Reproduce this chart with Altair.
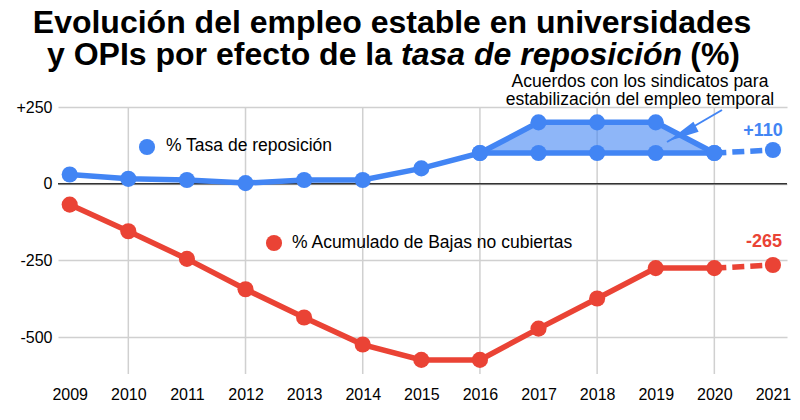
import altair as alt
import pandas as pd

# ---- data ----
years = [2009, 2010, 2011, 2012, 2013, 2014, 2015, 2016, 2017, 2018, 2019, 2020, 2021]
tasa = [30, 16, 12, 2, 12, 12, 50, 100, 100, 100, 100, 100, 110]
bajas = [-68, -155, -245, -344, -436, -524, -574, -574, -472, -374, -275, -275, -265]
acuerdos_years = [2016, 2017, 2018, 2019, 2020]
acuerdos_upper = [100, 200, 200, 200, 100]
acuerdos_lower = [100, 100, 100, 100, 100]
grid_years = [2010, 2012, 2014, 2016, 2018, 2020]
y_ticks = [-500, -250, 0, 250]

BLUE = "#4285F4"
RED = "#EA4335"
FONT = "Liberation Sans"
W, H = 729, 267

df = pd.DataFrame({"year": years, "tasa": tasa, "bajas": bajas})
solid = df[df.year <= 2020]
dashed = df[df.year >= 2020]
last = df[df.year == 2021]
acu = pd.DataFrame({"year": acuerdos_years, "upper": acuerdos_upper, "lower": acuerdos_lower})

xscale = alt.Scale(domain=[2008.8, 2021.24], nice=False, zero=False)
yscale = alt.Scale(domain=[-620, 250], nice=False, zero=False)
xax = alt.Axis(values=years, format="d", grid=False, ticks=False, domain=False,
               labelFontSize=16, labelFont=FONT, labelColor="#000", labelPadding=12, title=None)
yax = alt.Axis(values=y_ticks, grid=True, gridColor="#d0d0d0", gridWidth=1.5, ticks=False,
               domain=False, labelFontSize=16, labelFont=FONT, labelColor="#000", labelPadding=6,
               title=None, labelExpr="datum.value > 0 ? '+' + datum.value : '' + datum.value")


def X(field="year"):
    return alt.X(f"{field}:Q", scale=xscale, axis=xax)


def Y(field):
    return alt.Y(f"{field}:Q", scale=yscale, axis=yax)


one = alt.Data(values=[{}])

vgrid = alt.Chart(pd.DataFrame({"year": grid_years})).mark_rule(
    color="#d0d0d0", strokeWidth=1.5).encode(x=X(), y=alt.value(0), y2=alt.value(H))

zero = alt.Chart(pd.DataFrame({"v": [0]})).mark_rule(color="#333", strokeWidth=1.5).encode(
    y=Y("v"), x=alt.value(0), x2=alt.value(W))

area = alt.Chart(acu).mark_area(color=BLUE, opacity=0.6).encode(
    x=X(), y=Y("upper"), y2="lower:Q")

lw = 5.5
blue_solid = alt.Chart(solid).mark_line(color=BLUE, strokeWidth=lw).encode(x=X(), y=Y("tasa"))
blue_upper = alt.Chart(acu).mark_line(color=BLUE, strokeWidth=lw).encode(x=X(), y=Y("upper"))
blue_dash = alt.Chart(dashed).mark_line(color=BLUE, strokeWidth=lw, strokeDash=[12, 6]).encode(
    x=X(), y=Y("tasa"))
red_solid = alt.Chart(solid).mark_line(color=RED, strokeWidth=lw).encode(x=X(), y=Y("bajas"))
red_dash = alt.Chart(dashed).mark_line(color=RED, strokeWidth=lw, strokeDash=[12, 6]).encode(
    x=X(), y=Y("bajas"))

psize = 260
blue_pts = alt.Chart(df).mark_circle(color=BLUE, size=psize, opacity=1).encode(x=X(), y=Y("tasa"))
blue_up_pts = alt.Chart(acu).mark_circle(color=BLUE, size=psize, opacity=1).encode(x=X(), y=Y("upper"))
red_pts = alt.Chart(df).mark_circle(color=RED, size=psize, opacity=1).encode(x=X(), y=Y("bajas"))

lbl_blue = alt.Chart(last).transform_calculate(
    lbl="'+' + datum.tasa").mark_text(color=BLUE, fontSize=18, fontWeight="bold", font=FONT,
                                       dx=-10, dy=-19).encode(x=X(), y=Y("tasa"), text="lbl:N")
lbl_red = alt.Chart(last).transform_calculate(
    lbl="'' + datum.bajas").mark_text(color=RED, fontSize=18, fontWeight="bold", font=FONT,
                                       dx=-9, dy=-23).encode(x=X(), y=Y("bajas"), text="lbl:N")

# legend-like labels inside the plot
leg = []
leg.append(alt.Chart(one).mark_circle(color=BLUE, size=psize, opacity=1).encode(
    x=alt.value(89), y=alt.value(40)))
leg.append(alt.Chart(one).mark_text(text="% Tasa de reposición", align="left", baseline="middle",
                                    fontSize=17.5, font=FONT, color="#000").encode(
    x=alt.value(108), y=alt.value(39)))
leg.append(alt.Chart(one).mark_circle(color=RED, size=psize, opacity=1).encode(
    x=alt.value(216), y=alt.value(136)))
leg.append(alt.Chart(one).mark_text(text="% Acumulado de Bajas no cubiertas", align="left",
                                    baseline="middle", fontSize=17.5, font=FONT, color="#000").encode(
    x=alt.value(234), y=alt.value(136)))

# annotation
ann = []
ann.append(alt.Chart(one).mark_text(text="Acuerdos con los sindicatos para", align="center",
                                    baseline="middle", fontSize=17.5, font=FONT, color="#000").encode(
    x=alt.value(582), y=alt.value(-25)))
ann.append(alt.Chart(one).mark_text(text="estabilización del empleo temporal", align="center",
                                    baseline="middle", fontSize=17.5, font=FONT, color="#000").encode(
    x=alt.value(582), y=alt.value(-7)))
ann.append(alt.Chart(one).mark_rule(color=BLUE, strokeWidth=2).encode(
    x=alt.value(664), y=alt.value(3), x2=alt.value(609), y2=alt.value(35)))
ann.append(alt.Chart(one).mark_point(shape="M0,-1L0.36,1L-0.36,1Z", filled=True, color=BLUE,
                                     opacity=1, size=1000, angle=242.6).encode(
    x=alt.value(624), y=alt.value(27)))

# title (two lines, second with italic part)
tt = dict(fontSize=32, font=FONT, fontWeight="bold", color="#000", baseline="alphabetic")
title = []
title.append(alt.Chart(one).mark_text(text="Evolución del empleo estable en universidades",
                                      align="center", **tt).encode(x=alt.value(334), y=alt.value(-74)))
title.append(alt.Chart(one).mark_text(text="y OPIs por efecto de la", align="right", **tt).encode(
    x=alt.value(334), y=alt.value(-42)))
title.append(alt.Chart(one).mark_text(text="tasa de reposición", align="left", fontStyle="italic",
                                      **tt).encode(x=alt.value(343), y=alt.value(-42)))
title.append(alt.Chart(one).mark_text(text="(%)", align="right", **tt).encode(
    x=alt.value(682), y=alt.value(-42)))

chart = alt.layer(
    vgrid, area, zero, blue_solid, blue_upper, blue_dash, red_solid, red_dash,
    blue_pts, blue_up_pts, red_pts, lbl_blue, lbl_red, *leg, *ann, *title
).properties(
    width=W, height=H,
    autosize=alt.AutoSizeParams(type="none"),
    padding={"left": 50, "top": 99, "right": 5, "bottom": 35},
).configure_view(stroke=None)

chart.save("out.html", embed_options={"renderer": "svg", "actions": False})
